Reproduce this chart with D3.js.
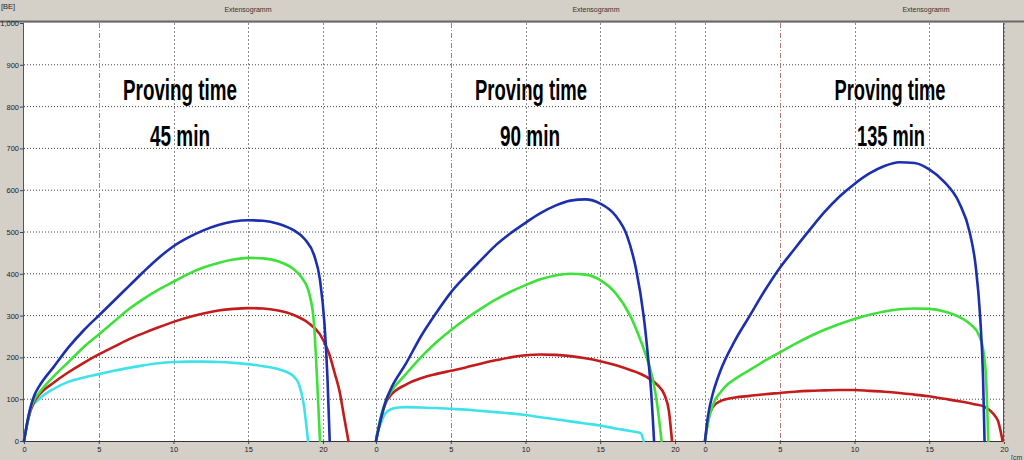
<!DOCTYPE html>
<html><head><meta charset="utf-8">
<script src="https://cdn.jsdelivr.net/npm/d3@7"></script>
<style>
html,body{margin:0;padding:0;background:#d4d0c8;}
svg{display:block;}
</style></head>
<body>
<script>
// ---------- data ----------
const yTicks = [0,100,200,300,400,500,600,700,800,900,1000];
const xTicks = [0,5,10,15,20];
const panelTitles = ["Extensogramm","Extensogramm","Extensogramm"];
const labelLine1 = ["Proving time","Proving time","Proving time"];
const labelLine2 = ["45 min","90 min","135 min"];
const yUnit = "[BE]";
const xUnit = "[cm";

// [extension (cm), resistance (BE)]
const blue45 = [[0,0],[0.3,60],[0.7,110],[1,130],[2,178],[3,225],[4,265],[5,300],[6,335],[7,370],[8,405],[9,438],[10,466],[11,487],[12,504],[13,517],[14,525],[15,528],[16,527],[17,520],[18,505],[18.8,482],[19.4,445],[19.8,385],[20.1,280],[20.3,150],[20.45,0]];
const green45 = [[0,0],[0.3,60],[0.7,100],[1,115],[2,155],[3,190],[4,225],[5,255],[6,285],[7,315],[8,340],[9,362],[10,381],[11,400],[12,415],[13,426],[14,434],[15,438],[16,437],[17,430],[18,412],[18.6,390],[19.1,350],[19.4,280],[19.6,150],[19.8,0]];
const red45 = [[0,0],[0.3,55],[0.7,95],[1,110],[2,140],[3,165],[4,187],[5,207],[6,225],[7,243],[8,258],[9,272],[10,285],[11,296],[12,305],[13,312],[14,316],[15,318],[16,317],[17,312],[18,302],[19,283],[19.8,255],[20.4,210],[20.8,160],[21.1,120],[21.4,60],[21.7,0]];
const cyan45 = [[0,0],[0.5,80],[1,100],[2,125],[3,142],[4,152],[5,160],[6,168],[7,175],[8,181],[9,186],[10,189],[11,190],[12,190],[13,189],[14,187],[15,184],[16,179],[17,172],[18,156],[18.4,135],[18.7,90],[19.0,0]];

const blue90 = [[0,0],[0.3,50],[0.7,100],[1,125],[2,185],[3,250],[4,305],[5,355],[6,395],[7,432],[8,468],[9,497],[10,522],[11,545],[12,563],[13,575],[14,578],[15,568],[16,540],[16.8,490],[17.4,410],[17.9,300],[18.2,200],[18.4,120],[18.6,0]];
const green90 = [[0,0],[0.3,55],[0.7,100],[1,118],[2,160],[3,200],[4,235],[5,265],[6,292],[7,316],[8,338],[9,357],[10,373],[11,387],[12,396],[13,400],[14,398],[15,385],[16,355],[17,300],[17.6,250],[18.1,200],[18.5,150],[18.8,90],[19.1,0]];
const red90 = [[0,0],[0.3,50],[0.7,95],[1,110],[2,135],[3,150],[4,160],[5,168],[6,176],[7,185],[8,193],[9,200],[10,205],[11,207],[12,206],[13,203],[14,198],[15,191],[16,182],[17,170],[18,155],[18.8,135],[19.3,110],[19.6,70],[19.8,0]];
const cyan90 = [[0,10],[0.3,40],[0.6,65],[1,76],[1.5,80],[2,81],[3,80],[4,79],[5,77],[6,75],[7,72],[8,69],[9,66],[10,62],[11,57],[12,52],[13,47],[14,42],[15,37],[16,30],[17,24],[17.7,19],[17.9,0]];

const blue135 = [[0,0],[0.2,60],[0.5,110],[1,165],[2,240],[3,300],[4,360],[5,414],[6,460],[7,505],[8,548],[9,585],[10,615],[11,640],[12,658],[13,667],[14,665],[15,650],[16,620],[17,570],[17.7,500],[18.1,420],[18.4,300],[18.6,150],[18.7,0]];
const green135 = [[0,0],[0.3,60],[0.7,100],[1,115],[1.5,135],[2,148],[3,170],[4,192],[5,212],[6,232],[7,250],[8,266],[9,280],[10,292],[11,302],[12,310],[13,315],[14,317],[15,316],[16,310],[17,297],[17.8,278],[18.3,255],[18.6,220],[18.8,150],[18.95,0]];
const red135 = [[0,0],[0.2,50],[0.5,80],[1,95],[2,104],[3,108],[4,112],[5,115],[6,118],[7,120],[8,121],[9,122],[10,122],[11,120],[12,118],[13,115],[14,111],[15,107],[16,101],[17,95],[18,88],[18.7,82],[19.1,72],[19.4,60],[19.6,48],[19.7,35],[19.85,10],[19.9,0]];

const panelSeries = [
  [cyan45, red45, green45, blue45],
  [cyan90, red90, green90, blue90],
  [red135, green135, blue135]
];
const seriesColors = {blue:"#1c2fae", green:"#3ee03a", red:"#c41c1c", cyan:"#3ee3ea"};
const panelColors = [
  [seriesColors.cyan, seriesColors.red, seriesColors.green, seriesColors.blue],
  [seriesColors.cyan, seriesColors.red, seriesColors.green, seriesColors.blue],
  [seriesColors.red, seriesColors.green, seriesColors.blue]
];

// ---------- layout ----------
const W = 1024, H = 460;
const plotTop = 23, plotBottom = 441, plotLeft = 24, plotRight = 1003;
const panelX0 = [24, 376, 705];
const panelW = 299;

const svg = d3.select("body").append("svg").attr("width", W).attr("height", H);
svg.append("rect").attr("width", W).attr("height", H).attr("fill", "#d4d0c8");
svg.append("rect").attr("x", plotLeft).attr("y", plotTop).attr("width", plotRight - plotLeft).attr("height", plotBottom - plotTop).attr("fill", "#ffffff");

const y = d3.scaleLinear().domain([0, 1000]).range([plotBottom, plotTop]);
const xs = panelX0.map(x0 => d3.scaleLinear().domain([0, 20]).range([x0, x0 + panelW]));

// horizontal grid
svg.append("g").selectAll("line").data(yTicks.filter(d => d > 0 && d < 1000)).join("line")
  .attr("x1", plotLeft).attr("x2", plotRight)
  .attr("y1", d => y(d)).attr("y2", d => y(d))
  .attr("stroke", "#444").attr("stroke-width", 1).attr("stroke-dasharray", "1,2");

// vertical grid per panel
xs.forEach((x, i) => {
  const g = svg.append("g");
  g.selectAll("line").data(xTicks.filter(d => !(i === 0 && d === 0))).join("line")
    .attr("x1", d => Math.round(x(d)) + 0.5).attr("x2", d => Math.round(x(d)) + 0.5)
    .attr("y1", plotTop).attr("y2", plotBottom)
    .attr("stroke", d => d === 5 ? "#b07a7a" : "#8a8a8a")
    .attr("stroke-width", 1)
    .attr("stroke-dasharray", d => d === 5 ? "5,2,1,2" : "2,2");
});

// frame
svg.append("line").attr("x1", 0).attr("x2", W).attr("y1", 21.5).attr("y2", 21.5).attr("stroke", "#6a6a6a").attr("stroke-width", 2);
svg.append("line").attr("x1", plotLeft - 0.5).attr("x2", plotLeft - 0.5).attr("y1", plotTop).attr("y2", plotBottom).attr("stroke", "#555").attr("stroke-width", 1);
svg.append("line").attr("x1", plotLeft).attr("x2", plotRight).attr("y1", plotBottom + 0.5).attr("y2", plotBottom + 0.5).attr("stroke", "#333").attr("stroke-width", 1.2);
svg.append("line").attr("x1", plotRight + 0.5).attr("x2", plotRight + 0.5).attr("y1", plotTop).attr("y2", plotBottom).attr("stroke", "#555").attr("stroke-width", 1);

// y axis
const yAxis = d3.axisLeft(y).tickValues(yTicks).tickSize(3).tickPadding(1);
const ya = svg.append("g").attr("transform", `translate(${plotLeft - 1},0)`).call(yAxis);
ya.select(".domain").remove();
ya.selectAll("text").attr("font-family", "Liberation Sans, Arial, sans-serif").attr("font-size", 7.5).attr("fill", "#222");
ya.selectAll("line").attr("stroke", "#444");

svg.append("text").attr("x", 1).attr("y", 9).text(yUnit)
  .attr("font-family", "Liberation Sans, Arial, sans-serif").attr("font-size", 7.5).attr("fill", "#222");
svg.append("text").attr("x", 1011).attr("y", 460).text(xUnit)
  .attr("font-family", "Liberation Sans, Arial, sans-serif").attr("font-size", 7).attr("fill", "#333");

// x axes
xs.forEach((x, i) => {
  const xa = svg.append("g").attr("transform", `translate(0,${plotBottom + 1})`)
    .call(d3.axisBottom(x).tickValues(xTicks).tickSize(2).tickPadding(3));
  xa.select(".domain").remove();
  xa.selectAll("text").attr("font-family", "Liberation Sans, Arial, sans-serif").attr("font-size", 7.5).attr("fill", "#222");
  xa.selectAll("line").attr("stroke", "#444");
});

// panel titles
const titleX = [248, 596, 926];
svg.append("g").selectAll("text").data(panelTitles).join("text")
  .attr("x", (d, i) => titleX[i]).attr("y", 12).attr("text-anchor", "middle")
  .attr("font-family", "Liberation Sans Narrow, Liberation Sans, Arial, sans-serif").attr("font-size", 7).attr("fill", "#333")
  .text(d => d);

// curves
const line = d3.line().curve(d3.curveMonotoneX);
panelSeries.forEach((list, i) => {
  const x = xs[i];
  line.x(d => x(d[0])).y(d => y(d[1]));
  list.forEach((s, j) => {
    svg.append("path").attr("d", line(s)).attr("fill", "none")
      .attr("stroke", panelColors[i][j]).attr("stroke-width", 2.6)
      .attr("stroke-linejoin", "round").attr("stroke-linecap", "round");
  });
});

// big annotations
const l1 = [[180, 114], [531, 112], [890, 111]];
const l2 = [[180, 60], [530, 60], [891, 68]];
const bigFont = "Liberation Sans Narrow, Arial Narrow, Liberation Sans, Arial, sans-serif";
labelLine1.forEach((t, i) => {
  svg.append("text").attr("x", l1[i][0]).attr("y", 100).attr("text-anchor", "middle")
    .attr("font-family", bigFont).attr("font-weight", "bold").attr("font-size", 30)
    .attr("textLength", l1[i][1]).attr("lengthAdjust", "spacingAndGlyphs").attr("fill", "#000").text(t);
  svg.append("text").attr("x", l2[i][0]).attr("y", 146).attr("text-anchor", "middle")
    .attr("font-family", bigFont).attr("font-weight", "bold").attr("font-size", 30)
    .attr("textLength", l2[i][1]).attr("lengthAdjust", "spacingAndGlyphs").attr("fill", "#000").text(labelLine2[i]);
});
</script>
</body></html>
